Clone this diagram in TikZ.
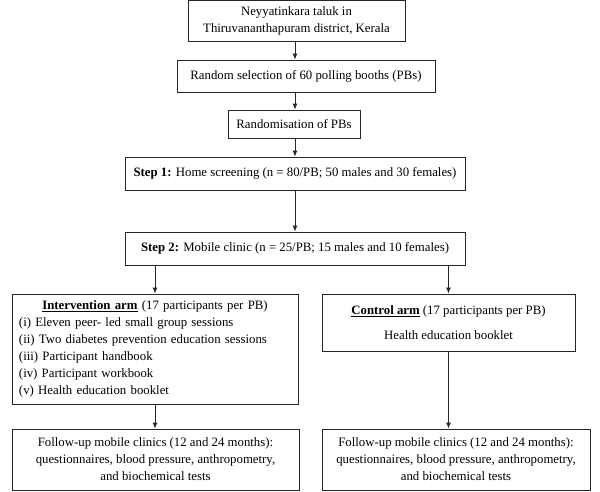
\documentclass[tikz,border=0pt]{standalone}
\usepackage{fontspec}
\setmainfont{Liberation Serif}
\usetikzlibrary{arrows.meta}
\tikzset{
  box/.style={draw=black!85, line width=0.9pt, rectangle, inner sep=0pt, align=center,
    font=\fontsize{12.8}{17}\selectfont},
  conn/.style={draw=black!85, line width=0.9pt, -{Latex[length=6pt,width=5pt]}}
}
\begin{document}
\begin{tikzpicture}[x=1pt,y=1pt]
\useasboundingbox (0,0) rectangle (600,-491);
\node[box, minimum width=217pt, minimum height=40.5pt] (b1) at (296.5,-20.75)
  {Neyyatinkara taluk in\\Thiruvananthapuram district, Kerala};
\node[box, minimum width=258pt, minimum height=32pt] (b2) at (306,-76)
  {Random selection of 60 polling booths (PBs)};
\node[box, minimum width=132pt, minimum height=28pt] (b3) at (294,-124)
  {Randomisation of PBs};
\node[box, minimum width=340pt, minimum height=33pt] (b4) at (295,-173.5)
  {\textbf{Step 1:} Home screening (n = 80/PB; 50 males and 30 females)};
\node[box, minimum width=340pt, minimum height=33pt] (b5) at (295,-248.5)
  {\textbf{Step 2:} Mobile clinic (n = 25/PB; 15 males and 10 females)};
\node[box, minimum width=286pt, minimum height=110pt, text width=272pt, align=left] (int) at (155,-349)
  {\centerline{\underline{\textbf{Intervention arm}} (17 participants per PB)}
   (i) Eleven peer- led small group sessions\\
   (ii) Two diabetes prevention education sessions\\
   (iii) Participant handbook\\
   (iv) Participant workbook\\
   (v) Health education booklet};
\node[box, minimum width=253pt, minimum height=57pt] (ctrl) at (448.5,-322.5)
  {\underline{\textbf{Control arm}} (17 participants per PB)\\[8pt]
   Health education booklet};
\node[box, minimum width=287pt, minimum height=61pt] (fuL) at (155.5,-459.5)
  {Follow-up mobile clinics (12 and 24 months):\\
   questionnaires, blood pressure, anthropometry,\\
   and biochemical tests};
\node[box, minimum width=268pt, minimum height=61pt] (fuR) at (456,-459.5)
  {Follow-up mobile clinics (12 and 24 months):\\
   questionnaires, blood pressure, anthropometry,\\
   and biochemical tests};
\draw[conn] (b1.south -| b4.north) -- (b4.north |- b2.north);
\draw[conn] (b2.south -| b4.north) -- (b4.north |- b3.north);
\draw[conn] (b3.south -| b4.north) -- (b4.north);
\draw[conn] (b4.south) -- (b5.north);
\draw[conn] (b5.south -| int.north) -- (int.north);
\draw[conn] (b5.south -| ctrl.north) -- (ctrl.north);
\draw[conn] (int.south) -- (int.south |- fuL.north);
\draw[conn] (ctrl.south) -- (ctrl.south |- fuR.north);
\end{tikzpicture}
\end{document}
